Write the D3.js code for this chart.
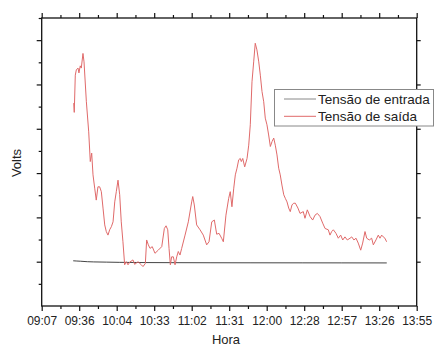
<!DOCTYPE html>
<html><head><meta charset="utf-8">
<script src="https://cdn.jsdelivr.net/npm/d3@7/dist/d3.min.js"></script>
<style>body{margin:0;background:#fff} text{font-family:"Liberation Sans",Arial,sans-serif;fill:#222}</style>
</head><body><svg id="c" width="434" height="347"></svg>
<script>
// minutes after 09:07
const xTickMinutes = [0,28.8,57.6,86.4,115.2,144,172.8,201.6,230.4,259.2,288];
const xTickLabels = ["09:07","09:36","10:04","10:33","11:02","11:31","12:00","12:28","12:57","13:26","13:55"];
const yTicks = [1,2,3,4,5,6];
const seriesNames = ["Tensão de entrada","Tensão de saída"];

const inTime  = [24.2,27,30,35,40,50,60,80,100,130,160,200,230,265];
const inVolts = [1.02,1.015,1.01,1.0,0.995,0.99,0.985,0.98,0.978,0.976,0.975,0.974,0.973,0.972];

const outTime = [24.6,25.0,25.8,26.6,27.9,28.6,29.6,30.4,31.7,32.5,34.3,36.1,37.3,38.4,39.4,40.7,41.9,43.2,44.5,45.8,47.1,48.4,49.6,50.9,52.2,53.5,54.8,56.1,57.3,58.6,59.9,61.1,62.4,63.7,65.0,66.3,67.6,70.1,71.4,74.0,76.5,77.8,79.6,80.6,81.9,83.2,84.9,87.0,89.5,92.2,94.2,95.5,96.8,97.8,98.8,99.8,101.1,102.4,103.7,104.9,106.2,107.5,110.1,112.6,115.2,116.0,117.2,119.0,121.6,124.1,126.7,128.5,130.6,132.6,134.4,136.2,138.2,139.5,141.5,143.6,144.8,146.1,147.5,148.7,150.0,151.3,152.5,153.3,154.4,155.9,157.7,159.0,160.2,161.5,162.8,164.0,165.3,166.7,167.9,169.2,170.5,171.7,173.0,174.3,175.6,176.9,178.2,179.4,180.7,182.0,183.2,184.5,185.9,187.1,188.4,189.7,190.9,192.2,193.5,194.8,196.8,198.4,200.9,202.2,204.0,206.1,208.1,209.9,211.7,213.7,215.8,217.6,220.1,221.4,222.7,224.0,226.0,227.8,229.6,231.2,232.9,234.7,236.8,238.1,239.8,241.4,243.1,245.0,246.5,248.3,249.6,251.6,253.4,254.7,256.7,258.5,259.8,261.1,262.3,263.6,264.9];
const outVolts = [4.58,4.37,5.21,5.33,5.37,5.26,5.42,5.37,5.70,5.51,4.61,3.93,3.26,3.45,2.96,2.66,2.39,2.69,2.69,2.58,2.21,1.83,1.68,1.60,1.72,1.79,1.90,2.35,2.58,2.84,2.51,1.90,1.45,0.93,1.00,0.93,0.99,1.04,0.94,1.00,0.93,0.89,0.96,1.49,1.38,1.30,1.34,1.19,1.26,1.34,1.75,1.81,1.72,1.30,0.93,1.11,1.11,0.93,1.11,1.23,1.15,1.30,1.60,1.90,2.35,2.47,2.28,1.83,1.72,1.60,1.38,1.45,1.90,1.94,1.62,1.64,1.53,1.45,2.05,2.43,2.58,2.24,2.66,2.96,3.11,3.30,3.33,3.26,3.33,3.14,3.33,3.63,4.09,5.06,5.51,5.93,5.78,5.51,5.21,4.84,4.61,4.24,4.09,3.86,3.60,3.71,3.79,3.63,3.41,3.11,2.96,2.73,2.51,2.43,2.35,2.21,2.13,2.28,2.32,2.32,2.21,2.09,2.13,1.98,2.17,2.02,1.94,2.05,2.09,2.02,1.87,1.75,1.72,1.60,1.68,1.72,1.64,1.53,1.60,1.49,1.56,1.49,1.53,1.56,1.49,1.53,1.42,1.26,1.42,1.68,1.53,1.49,1.53,1.38,1.49,1.60,1.53,1.60,1.56,1.53,1.45];

const L = 41.7, R = 416.7, T = 18, B = 306;
const colors = ["#444444", "#e06a6a"];
const svg = d3.select("#c");
const x = d3.scaleLinear().domain([0, 288]).range([L, R]);
const y = d3.scaleLinear().domain([0, 6.5]).range([B, T]);

const xMinor = xTickMinutes.slice(0, -1).map((d, i) => (d + xTickMinutes[i + 1]) / 2);
const yMinor = d3.range(0.5, 6.6, 1);

function styleAxis(g) {
  g.select(".domain").remove();
  g.selectAll("line").attr("stroke", "#111").attr("stroke-width", 1.2);
  g.selectAll("text").style("font-size", "12px").attr("fill", "#333");
}
// bottom
svg.append("g").attr("transform", `translate(0,${B})`)
  .call(d3.axisBottom(x).tickValues(xTickMinutes).tickSize(5).tickPadding(5).tickFormat((d, i) => xTickLabels[i])).call(styleAxis);
svg.append("g").attr("transform", `translate(0,${B})`)
  .call(d3.axisBottom(x).tickValues(xMinor).tickSize(3).tickFormat("")).call(styleAxis);
// top
svg.append("g").attr("transform", `translate(0,${T})`)
  .call(d3.axisTop(x).tickValues(xTickMinutes).tickSize(5).tickFormat("")).call(styleAxis);
svg.append("g").attr("transform", `translate(0,${T})`)
  .call(d3.axisTop(x).tickValues(xMinor).tickSize(3).tickFormat("")).call(styleAxis);
// left
svg.append("g").attr("transform", `translate(${L},0)`)
  .call(d3.axisLeft(y).tickValues(yTicks).tickSize(5).tickFormat("")).call(styleAxis);
svg.append("g").attr("transform", `translate(${L},0)`)
  .call(d3.axisLeft(y).tickValues(yMinor).tickSize(3).tickFormat("")).call(styleAxis);
// right
svg.append("g").attr("transform", `translate(${R},0)`)
  .call(d3.axisRight(y).tickValues(yTicks).tickSize(4).tickFormat("")).call(styleAxis);

svg.append("rect").attr("x", L).attr("y", T).attr("width", R - L).attr("height", B - T)
  .attr("fill", "none").attr("stroke", "#111").attr("stroke-width", 1.3);

const line = d3.line().x(d => x(d[0])).y(d => y(d[1]));
svg.append("path").datum(d3.zip(inTime, inVolts)).attr("d", line)
  .attr("fill", "none").attr("stroke", colors[0]).attr("stroke-width", 1);
svg.append("path").datum(d3.zip(outTime, outVolts)).attr("d", line)
  .attr("fill", "none").attr("stroke", colors[1]).attr("stroke-width", 1);

// axis titles
svg.append("text").attr("x", 226).attr("y", 344).attr("text-anchor", "middle")
  .style("font-size", "13px").text("Hora");
svg.append("text").attr("transform", "translate(21,163) rotate(-90)").attr("text-anchor", "middle")
  .style("font-size", "13px").text("Volts");

// legend
const lg = svg.append("g");
lg.append("rect").attr("x", 274.5).attr("y", 89.5).attr("width", 159).attr("height", 36.5)
  .attr("fill", "#fff").attr("stroke", "#888").attr("stroke-width", 1);
seriesNames.forEach((n, i) => {
  const yy = 99 + i * 17.3;
  lg.append("line").attr("x1", 284).attr("x2", 316).attr("y1", yy).attr("y2", yy)
    .attr("stroke", i === 0 ? "#888" : colors[1]).attr("stroke-width", 1);
  lg.append("text").attr("x", 318).attr("y", yy + 4.5).style("font-size", "13.5px").text(n);
});
</script></body></html>
